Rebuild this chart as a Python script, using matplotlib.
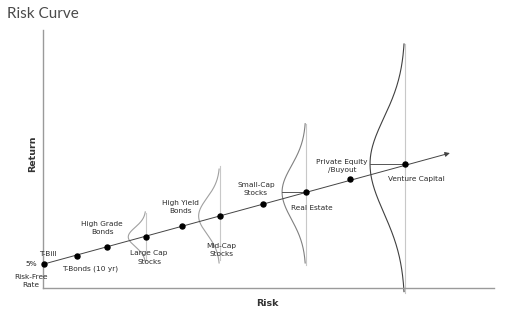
"""
Risk curve: risk vs. return of asset classes
"""
import matplotlib.pyplot as plt
import numpy as np

# asset classes along the risk curve (risk, return in chart units 0-100)
assets = ["T-Bill", "T-Bonds (10 yr)", "High Grade\nBonds", "Large Cap\nStocks",
          "High Yield\nBonds", "Mid-Cap\nStocks", "Small-Cap\nStocks", "Real Estate",
          "Private Equity\n/Buyout", "Venture Capital"]
risk = [0.2, 7.5, 14.2, 22.8, 30.8, 39.2, 48.8, 58.3, 68.1, 80.3]
ret = [9.3, 12.4, 15.9, 19.8, 24.0, 27.9, 32.6, 37.2, 42.2, 48.1]
arrow_end = (90.2, 52.3)

# return distributions drawn for some classes
dist_names = ["Large Cap\nStocks", "Mid-Cap\nStocks", "Real Estate", "Venture Capital"]
dist_spread_up = [9.7, 18.2, 26.5, 46.5]
dist_spread_down = [9.7, 18.2, 27.5, 49.5]
dist_width = [3.9, 4.7, 5.3, 7.8]
dist_line_bottom = [10.9, 10.9, 8.9, -1.9]
dist_line_top = [29.1, 47.3, 63.6, 94.6]

# label placement (text centre) for each asset
label_xy = {
    "T-Bill": (1.1, 13.2),
    "T-Bonds (10 yr)": (10.4, 7.4),
    "High Grade\nBonds": (13.1, 23.2),
    "Large Cap\nStocks": (23.5, 11.8),
    "High Yield\nBonds": (30.5, 31.4),
    "Mid-Cap\nStocks": (39.5, 14.7),
    "Small-Cap\nStocks": (47.2, 38.4),
    "Real Estate": (59.6, 31.0),
    "Private Equity\n/Buyout": (66.3, 47.3),
    "Venture Capital": (82.7, 42.2),
}

fig = plt.figure(figsize=(5.12, 3.15), dpi=100)
ax = fig.add_axes([0.084, 0.0857, 0.881, 0.819])
ax.set_xlim(0, 100)
ax.set_ylim(0, 100)
for side in ["top", "right"]:
    ax.spines[side].set_visible(False)
for side in ["left", "bottom"]:
    ax.spines[side].set_color("#9a9a9a")
    ax.spines[side].set_linewidth(1.0)
ax.set_xticks([])
ax.set_yticks([])

# distributions: half bell curve left of a vertical line
curve_colors = ["#a0a0a0", "#a0a0a0", "#808080", "#404040"]
for i, name in enumerate(dist_names):
    k = assets.index(name)
    x0, mu = risk[k], ret[k]
    ax.plot([x0, x0], [dist_line_bottom[i], dist_line_top[i]], color="#c8c8c8",
            lw=0.8, clip_on=False, zorder=1)
    yy = np.linspace(mu - dist_spread_down[i], mu + dist_spread_up[i], 200)
    # spread on each side of the mean may differ a little
    half = np.where(yy >= mu, dist_spread_up[i], dist_spread_down[i])
    sigma = half / 2.6
    xx = x0 - dist_width[i] * np.exp(-(yy - mu) ** 2 / (2 * sigma ** 2))
    ax.plot(xx, yy, color=curve_colors[i], lw=0.8, clip_on=False, zorder=2)
    if name in ("Real Estate", "Venture Capital"):
        ax.plot([x0 - dist_width[i], x0], [mu, mu], color="#555555", lw=0.7, zorder=2)

# the risk/return line with arrow
ax.annotate("", xy=arrow_end, xytext=(risk[0], ret[0]),
            arrowprops=dict(arrowstyle="-|>", color="#444444", lw=0.7,
                            mutation_scale=7, shrinkA=0, shrinkB=0), zorder=3)
ax.plot(risk, ret, "o", color="black", markersize=3.6, clip_on=False, zorder=4)

txt = dict(fontsize=5.3, color="#2a2a2a", ha="center", va="center",
           linespacing=1.45, fontweight="medium")
for name in assets:
    lx, ly = label_xy[name]
    ax.text(lx, ly, name, **txt)
ax.text(-2.7, 9.3, "5%", **txt)
ax.text(-2.7, 2.7, "Risk-Free\nRate", **txt)

ax.text(-2.4, 51.9, "Return", fontsize=6.8, fontweight="bold", color="#333333",
        rotation=90, ha="center", va="center")
ax.text(49.7, -6.2, "Risk", fontsize=6.8, fontweight="bold", color="#333333",
        ha="center", va="center")
fig.text(0.013, 0.955, "Risk Curve", fontsize=11, color="#4a4a4a",
         fontfamily="Lato", fontweight="normal", ha="left", va="center")

fig.savefig("out.png", dpi=100)
